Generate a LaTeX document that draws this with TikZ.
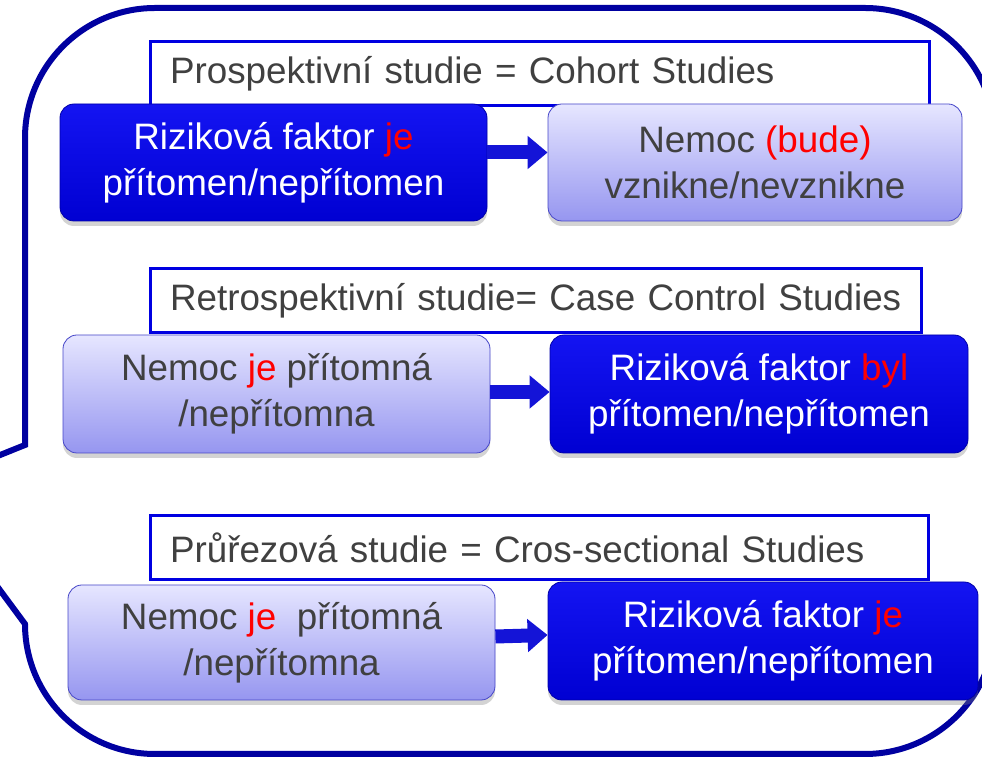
\documentclass[tikz,border=0pt]{standalone}
\usepackage{fontspec}
\setmainfont{Liberation Sans}
\usepackage{tikz}
\usetikzlibrary{arrows.meta, shadows}

\definecolor{calloutblue}{RGB}{0,0,160}
\definecolor{headblue}{RGB}{0,0,225}
\definecolor{darktop}{RGB}{20,20,242}
\definecolor{darkbot}{RGB}{0,0,210}
\definecolor{lighttop}{RGB}{230,230,255}
\definecolor{lightbot}{RGB}{150,150,240}
\definecolor{lightedge}{RGB}{70,70,200}
\definecolor{textgray}{RGB}{64,64,64}
\definecolor{arrowblue}{RGB}{20,20,215}

\tikzset{
  boxfont/.style={font=\fontsize{18.4}{23}\selectfont},
  headbox/.style={boxfont, draw=headblue, line width=1.5pt, fill=white, text=textgray,
    minimum height=32pt, inner xsep=10pt, inner ysep=0pt, align=left},
  riskbox/.style={boxfont, rounded corners=7pt, draw=darkbot!80!black, top color=darktop,
    bottom color=darkbot, text=white, align=center, inner sep=0pt,
    drop shadow={shadow xshift=0pt, shadow yshift=-2.5pt, opacity=0.35}},
  illbox/.style={boxfont, rounded corners=7pt, draw=lightedge, top color=lighttop,
    bottom color=lightbot, text=textgray, align=center, inner sep=0pt,
    drop shadow={shadow xshift=0pt, shadow yshift=-2.5pt, opacity=0.35}},
  flowarrow/.style={draw=arrowblue, line width=7pt, -{Triangle[width=16pt,length=10pt]}}
}

\begin{document}
\begin{tikzpicture}[x=0.5pt, y=-0.5pt]
  \useasboundingbox (0,0) rectangle (982,758);
  \clip (0,0) rectangle (982,758);

  % Callout
  \draw[calloutblue, line width=3pt, line join=miter]
    (25,445) -- (25,138) arc[start angle=180, end angle=270, radius=130]
    -- (865,8) arc[start angle=270, end angle=360, radius=130]
    -- (995,624) arc[start angle=0, end angle=90, radius=130]
    -- (155,754) arc[start angle=90, end angle=180, radius=130]
    -- (25,624) -- (-77,486) -- cycle;

  % Headers
  \node[headbox, text width=369.5pt] (prosp) at (539.5,74)
    {\mbox{Prospektivní studie = Cohort Studies}};
  \node[headbox, text width=365.5pt] (retro) at (535.5,301)
    {\mbox{Retrospektivní studie= Case Control Studies}};
  \node[headbox, text width=369pt] (cross) at (539,548)
    {\mbox{Průřezová studie = Cros-sectional Studies}};

  % Nodes
  \node[riskbox, minimum width=213.5pt, minimum height=58.5pt] (rf1) at (273.5,162.5)
    {Riziková faktor \textcolor{red}{je}\\přítomen/nepřítomen};
  \node[illbox, minimum width=207pt, minimum height=58.5pt] (ill1) at (755,162.5)
    {Nemoc \textcolor{red}{(bude)}\\vznikne/nevznikne};

  \node[illbox, minimum width=213.5pt, minimum height=59pt] (ill2) at (276.5,394)
    {Nemoc \textcolor{red}{je} přítomná\\/nepřítomna};
  \node[riskbox, minimum width=209pt, minimum height=59pt] (rf2) at (759,394)
    {Riziková faktor \textcolor{red}{byl}\\přítomen/nepřítomen};

  \node[illbox, minimum width=213.5pt, minimum height=57.5pt] (ill3) at (281.5,642.5)
    {Nemoc \textcolor{red}{je}\ \ přítomná\\/nepřítomna};
  \node[riskbox, minimum width=215pt, minimum height=59pt] (rf3) at (763,641)
    {Riziková faktor \textcolor{red}{je}\\přítomen/nepřítomen};

  % Arrows
  \draw[flowarrow] ([yshift=5pt]rf1.east) -- ([yshift=5pt]ill1.west);
  \draw[flowarrow] ([yshift=1pt]ill2.east) -- ([yshift=1pt]rf2.west);
  \draw[flowarrow] ([yshift=3pt]ill3.east) -- ([yshift=3pt]rf3.west);
\end{tikzpicture}
\end{document}
